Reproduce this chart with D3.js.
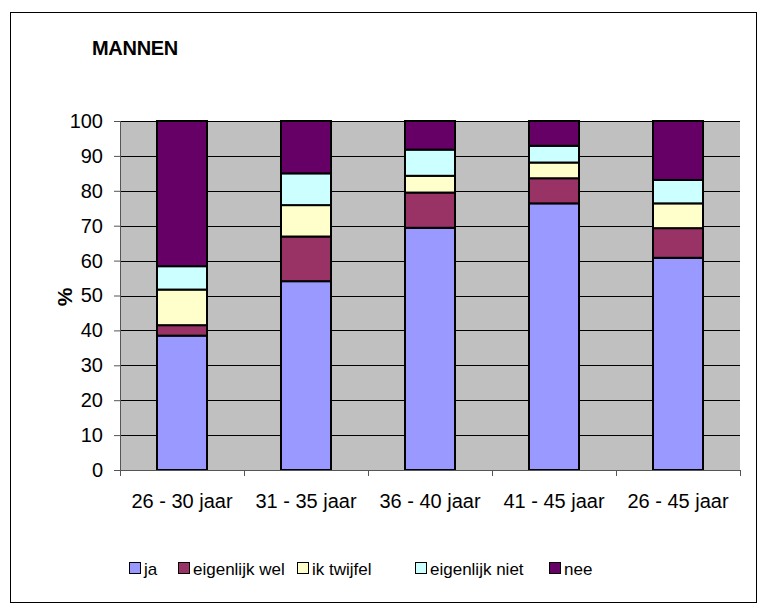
<!DOCTYPE html>
<html>
<head>
<meta charset="utf-8">
<script src="https://cdn.jsdelivr.net/npm/d3@7"></script>
<style>
  body { margin: 0; background: #fff; }
  text { font-family: Arial, "Liberation Sans", sans-serif; }
</style>
</head>
<body>
<div id="chart"></div>
<script>
// Data
const categories = ["26 - 30 jaar", "31 - 35 jaar", "36 - 40 jaar", "41 - 45 jaar", "26 - 45 jaar"];
const seriesNames = ["ja", "eigenlijk wel", "ik twijfel", "eigenlijk niet", "nee"];
const ja = [38.5, 54.1, 69.4, 76.4, 60.8];
const eigenlijkWel = [3.0, 12.8, 10.1, 7.2, 8.5];
const ikTwijfel = [10.2, 9.0, 4.8, 4.5, 7.1];
const eigenlijkNiet = [6.7, 9.1, 7.5, 4.8, 6.7];
const nee = [41.6, 15.0, 8.2, 7.1, 16.9];
const yTicks = [0, 10, 20, 30, 40, 50, 60, 70, 80, 90, 100];

const colors = ["#9999ff", "#993366", "#ffffcc", "#ccffff", "#660066"];

const totalWidth = 769, totalHeight = 608;
const margin = { top: 121, right: 29, bottom: 138, left: 120 };
const width = totalWidth - margin.left - margin.right;
const height = totalHeight - margin.top - margin.bottom;

const rows = categories.map((c, i) => ({
  cat: c,
  "ja": ja[i],
  "eigenlijk wel": eigenlijkWel[i],
  "ik twijfel": ikTwijfel[i],
  "eigenlijk niet": eigenlijkNiet[i],
  "nee": nee[i]
}));

const svgRoot = d3.select("#chart").append("svg")
  .attr("width", totalWidth)
  .attr("height", totalHeight);

// outer frame
svgRoot.append("rect")
  .attr("x", 10.5).attr("y", 12.5)
  .attr("width", 746).attr("height", 590)
  .attr("fill", "none").attr("stroke", "#000").attr("stroke-width", 1);

svgRoot.append("text")
  .attr("x", 92).attr("y", 55)
  .attr("font-size", 20).attr("font-weight", "bold")
  .attr("letter-spacing", -0.3)
  .text("MANNEN");

const svg = svgRoot.append("g")
  .attr("transform", `translate(${margin.left},${margin.top})`);

const x = d3.scaleBand().domain(categories).range([0, width]).paddingInner(0).paddingOuter(0);
const y = d3.scaleLinear().domain([0, 100]).range([height, 0]);

// plot background
svg.append("rect")
  .attr("width", width).attr("height", height)
  .attr("fill", "#c0c0c0");

// gridlines
svg.append("g")
  .selectAll("line")
  .data(yTicks.filter(t => t > 0))
  .join("line")
  .attr("x1", 0).attr("x2", width)
  .attr("y1", d => Math.round(y(d)) + 0.5).attr("y2", d => Math.round(y(d)) + 0.5)
  .attr("stroke", "#000").attr("stroke-width", 1);

// stacked bars
const stack = d3.stack().keys(seriesNames)(rows);
const barW = 50;
svg.append("g")
  .selectAll("g")
  .data(stack)
  .join("g")
  .attr("fill", (d, i) => colors[i])
  .selectAll("rect")
  .data(d => d)
  .join("rect")
  .attr("x", d => x(d.data.cat) + (x.bandwidth() - barW) / 2)
  .attr("y", d => y(d[1]))
  .attr("width", barW)
  .attr("height", d => y(d[0]) - y(d[1]))
  .attr("stroke", "#000")
  .attr("stroke-width", 2);

// y axis
const yAxis = svg.append("g")
  .call(d3.axisLeft(y).tickValues(yTicks).tickSize(6).tickPadding(11));
yAxis.select(".domain").attr("stroke", "#555").attr("d", `M0.5,0V${height + 6}`);
yAxis.selectAll(".tick line").attr("stroke", "#555");
yAxis.selectAll(".tick text").attr("font-size", 20).attr("fill", "#000")
  .attr("font-family", "Arial, 'Liberation Sans', sans-serif");

// x axis
const xAxis = svg.append("g")
  .attr("transform", `translate(0,${height})`)
  .call(d3.axisBottom(x).tickSize(0));
xAxis.select(".domain").attr("stroke", "#555");
xAxis.selectAll(".tick text")
  .attr("y", 38).attr("dy", 0)
  .attr("font-size", 20).attr("fill", "#000")
  .attr("font-family", "Arial, 'Liberation Sans', sans-serif");
xAxis.append("g")
  .selectAll("line")
  .data(d3.range(categories.length + 1))
  .join("line")
  .attr("x1", i => Math.round(i * x.step()) + 0.5)
  .attr("x2", i => Math.round(i * x.step()) + 0.5)
  .attr("y1", 0).attr("y2", 6)
  .attr("stroke", "#555");

// y label
svgRoot.append("text")
  .attr("transform", "translate(72,297) rotate(-90)")
  .attr("text-anchor", "middle")
  .attr("font-size", 21).attr("font-weight", "bold")
  .text("%");

// legend
const legendX = [129, 178, 297, 415, 549];
const legend = svgRoot.append("g").attr("transform", "translate(0,562)");
const items = legend.selectAll("g")
  .data(seriesNames)
  .join("g")
  .attr("transform", (d, i) => `translate(${legendX[i]},0)`);
items.append("rect")
  .attr("x", 0.5).attr("y", 0.5)
  .attr("width", 11).attr("height", 11)
  .attr("fill", (d, i) => colors[i])
  .attr("stroke", "#000").attr("stroke-width", 1);
items.append("text")
  .attr("x", 15).attr("y", 13)
  .attr("font-size", 17)
  .text(d => d);
</script>
</body>
</html>
